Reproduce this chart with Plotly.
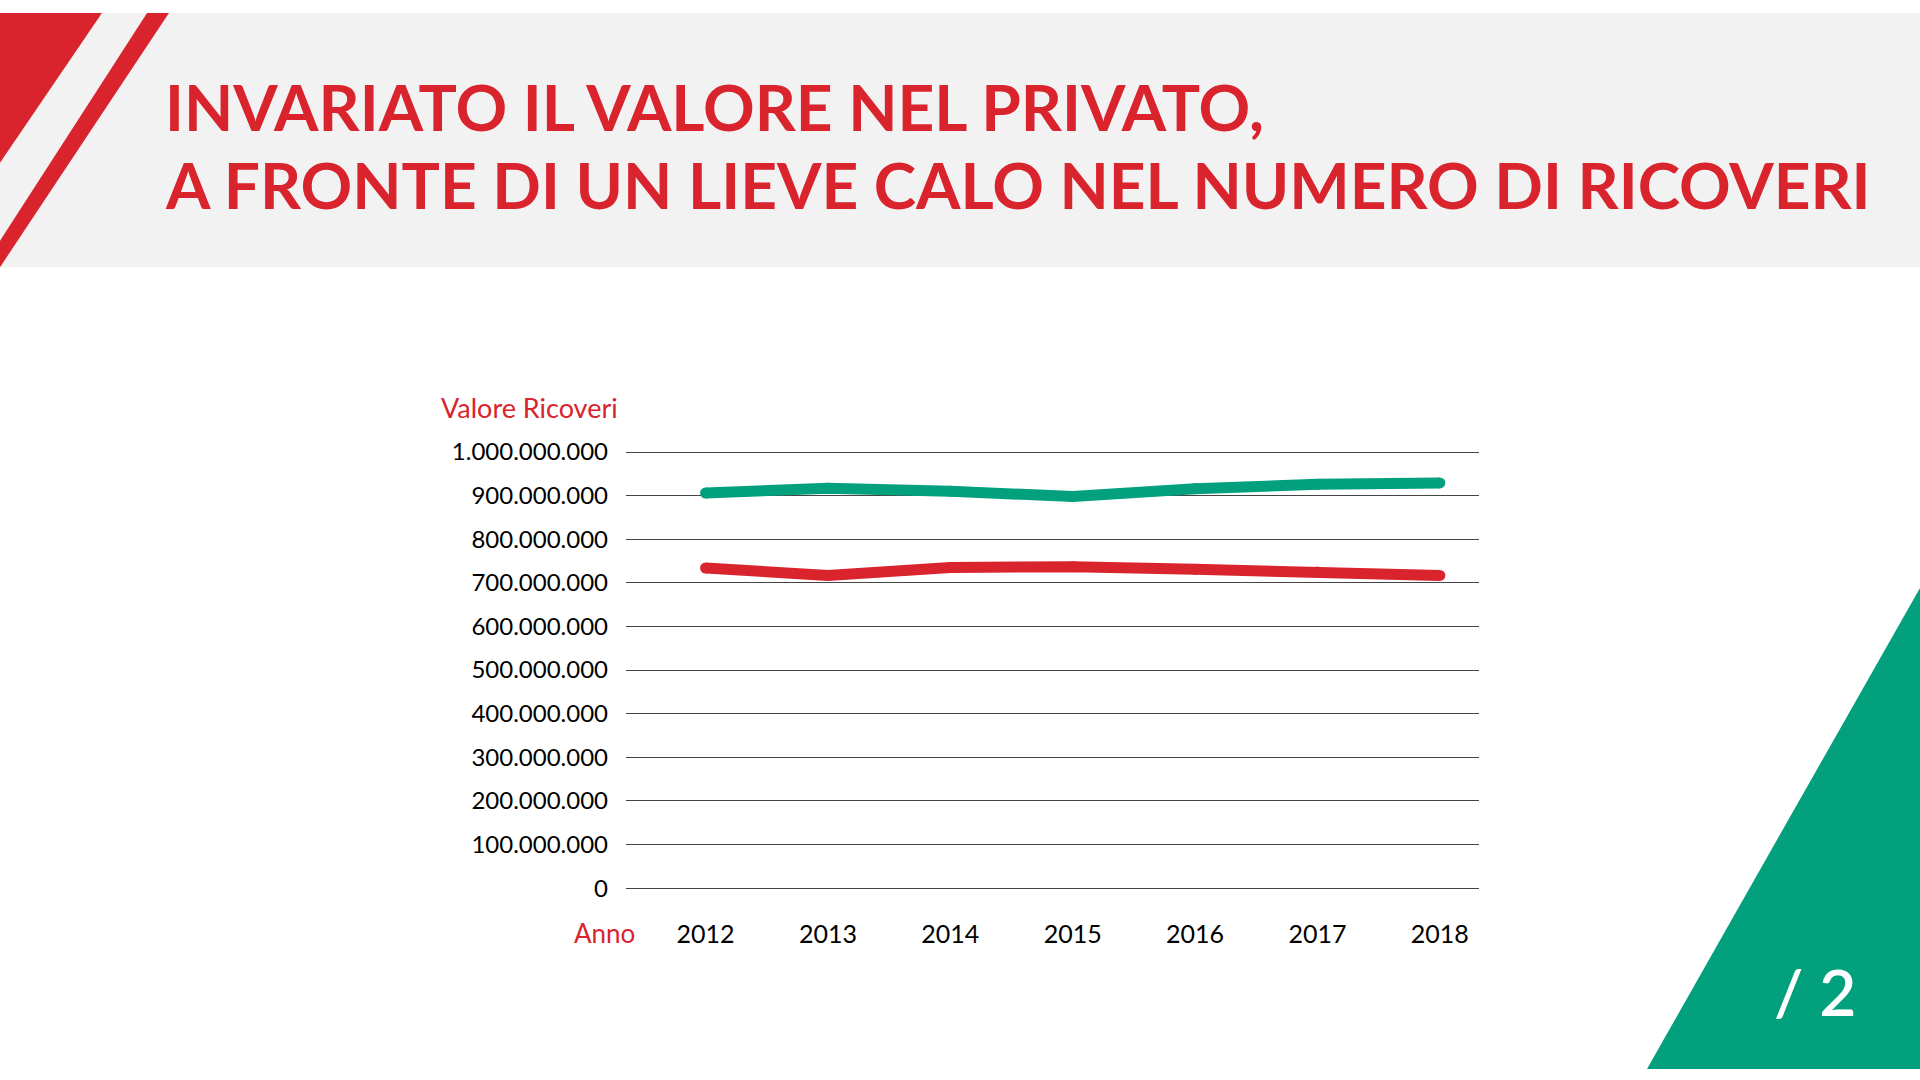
'''
valore ricoveri 2012-2018, slide "/ 2"
'''


# IMPORTING LIBRARIES
import plotly.graph_objects as go


# DATA
anni = [2012, 2013, 2014, 2015, 2016, 2017, 2018]
valore_verde = [906e6, 917e6, 910e6, 898e6, 916e6, 926e6, 929e6]
valore_rosso = [734e6, 717e6, 735e6, 737e6, 731e6, 725e6, 717e6]
y_ticks = [0, 100e6, 200e6, 300e6, 400e6, 500e6, 600e6, 700e6, 800e6, 900e6, 1000e6]

RED = "#d9232d"
GREEN = "#03a07e"
FONT = "Lato"


# BUILDING THE FIGURE
fig = go.Figure()
for vals, col in [(valore_verde, GREEN), (valore_rosso, RED)]:
    fig.add_trace(go.Scatter(
        x=anni, y=vals,
        mode="lines+markers",
        line=dict(color=col, width=11),
        marker=dict(color=col, size=11),  # fake round joins/caps
        hoverinfo="skip",
        showlegend=False,
    ))

# pad the range a bit so the 0 and 1.000.000.000 gridlines get drawn
pad = 5e6
y0_px, y1_px = 895 + pad / 1e9 * 446, 449 - pad / 1e9 * 446

fig.update_layout(
    width=1920, height=1080,
    margin=dict(l=0, r=0, t=0, b=0),
    paper_bgcolor="white",
    plot_bgcolor="rgba(0,0,0,0)",
    separators=",.",
    font=dict(family=FONT, color="black"),
    xaxis=dict(
        domain=[626/1920, 1479/1920],
        range=[2011.35, 2018.32],
        tickvals=anni,
        showgrid=False, zeroline=False, showline=False,
        tickfont=dict(size=25, color="black"),
        ticklabelstandoff=27,
        fixedrange=True,
    ),
    yaxis=dict(
        domain=[1 - y0_px/1080, 1 - y1_px/1080],
        range=[-pad, 1e9 + pad],
        tickvals=y_ticks,
        tickformat=",d",
        showgrid=True, gridcolor="#454545", gridwidth=1.2,
        zeroline=False, showline=False,
        tickfont=dict(size=24, color="black"),
        ticklabelstandoff=17,
        fixedrange=True,
    ),
)


# SLIDE DECORATION
shapes = [
    # grey header band
    dict(type="rect", xref="paper", yref="paper", x0=0, x1=1, y0=1 - 260/1080, y1=1,
         fillcolor="#f2f2f2", line_width=0, layer="below"),
    # red corner triangle
    dict(type="path", xref="paper", yref="paper",
         path="M 0 1 L %.4f 1 L 0 %.4f Z" % (102/1920, 1 - 153/1080),
         fillcolor=RED, line_width=0, layer="below"),
    # red stripe
    dict(type="path", xref="paper", yref="paper",
         path="M %.4f 1 L %.4f 1 L 0 %.4f L 0 %.4f Z" % (147/1920, 169/1920, 1 - 260/1080, 1 - 233/1080),
         fillcolor=RED, line_width=0, layer="below"),
    # green triangle bottom right
    dict(type="path", xref="paper", yref="paper",
         path="M 1 %.4f L 1 0 L %.4f 0 Z" % (1 - 588/1080, 1647/1920),
         fillcolor=GREEN, line_width=0, layer="below"),
]
fig.update_layout(shapes=shapes)

notes = [
    dict(text="INVARIATO IL VALORE NEL PRIVATO,", x=163/1920, y=1 - 96/1080,
         xanchor="left", yanchor="middle", font=dict(size=64, color=RED, weight="bold")),
    dict(text="A FRONTE DI UN LIEVE CALO NEL NUMERO DI RICOVERI", x=163/1920, y=1 - 175/1080,
         xanchor="left", yanchor="middle", font=dict(size=64, color=RED, weight="bold")),
    dict(text="Valore Ricoveri", x=439/1920, y=1 - 403/1080,
         xanchor="left", yanchor="middle", font=dict(size=27, color=RED)),
    dict(text="Anno", x=637/1920, y=1 - 941/1080,
         xanchor="right", yanchor="middle", font=dict(size=26, color=RED)),
    dict(text="/ 2", x=1858/1920, y=1 - 1001/1080,
         xanchor="right", yanchor="middle", font=dict(size=64, color="white", weight=600)),
]
for n in notes:
    fig.add_annotation(xref="paper", yref="paper", showarrow=False, **n)

# pin the slide to the top-left corner of the window (no body margin, no scrollbars)
pin = (
    "document.body.style.margin='0';"
    "document.documentElement.style.overflow='hidden';"
    "var gd=document.getElementById('{plot_id}');"
    "gd.style.position='fixed';gd.style.top='0';gd.style.left='0';"
)
fig.write_html("out.html", config={"displayModeBar": False}, post_script=pin)
